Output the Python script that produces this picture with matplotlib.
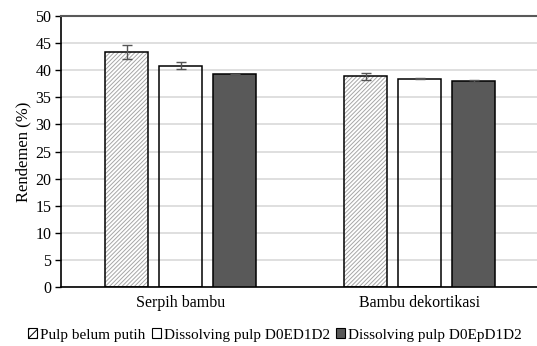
import matplotlib
matplotlib.use('Agg')
import numpy as np
import matplotlib.pyplot as plt
from matplotlib.patches import Patch

plt.rcParams['font.family'] = ['Liberation Serif', 'DejaVu Serif']
plt.rcParams['font.size'] = 11.5
plt.rcParams['hatch.linewidth'] = 0.7

categories = ['Serpih bambu', 'Bambu dekortikasi']
series = ['Pulp belum putih', 'Dissolving pulp D0ED1D2', 'Dissolving pulp D0EpD1D2']
values = [[43.3, 38.9], [40.8, 38.45], [39.25, 38.0]]
errors = [[1.3, 0.65], [0.65, 0.1], [0.05, 0.15]]

fills = ['white', 'white', '#595959']
hatches = ['////////', None, None]

fig = plt.figure(figsize=(5.37, 3.46), dpi=100)
ax = fig.add_axes([61 / 537, 59 / 346, 476 / 537, 271 / 346])

x = np.arange(len(categories))
width, step = 0.18, 0.226
for i, name in enumerate(series):
    pos = x + (i - 1) * step
    if hatches[i]:
        ax.bar(pos, values[i], width, color=fills[i], edgecolor='#a6a6a6',
               hatch=hatches[i], linewidth=0, zorder=2)
    ax.bar(pos, values[i], width, fill=fills[i] != 'white',
           color=fills[i], edgecolor='black', linewidth=1.1, zorder=3)
    ax.errorbar(pos, values[i], yerr=errors[i], fmt='none', ecolor='#555555',
                elinewidth=1, capsize=3.5, capthick=1, zorder=4)

ax.set_xlim(-0.5, 1.49)
ax.set_ylim(0, 50)
ax.set_yticks(np.arange(0, 51, 5))
ax.set_xticks(x)
ax.set_xticklabels(categories)
ax.tick_params(axis='x', length=0, pad=6)
ax.tick_params(axis='y', length=4, width=1, direction='out', pad=3)
ax.yaxis.grid(True, color='#d9d9d9', linewidth=1.2, zorder=0)
ax.set_axisbelow(True)
ax.spines['right'].set_visible(False)
ax.spines['top'].set_color('#595959')
ax.spines['top'].set_linewidth(1.5)
ax.spines['left'].set_linewidth(1.2)
ax.spines['bottom'].set_linewidth(1.2)
ax.set_ylabel('Rendemen (%)', fontsize=12, labelpad=3)

handles = [
    Patch(facecolor='white', edgecolor='black', hatch='////', linewidth=0.8),
    Patch(facecolor='white', edgecolor='black', linewidth=0.8),
    Patch(facecolor='#595959', edgecolor='black', linewidth=0.8),
]
fig.legend(handles, series, loc='center', bbox_to_anchor=(0.512, 11 / 346),
           ncol=3, frameon=False, fontsize=11, handlelength=0.6,
           handleheight=0.6, handletextpad=0.2, columnspacing=0.4)

fig.savefig('out.png', dpi=100)
